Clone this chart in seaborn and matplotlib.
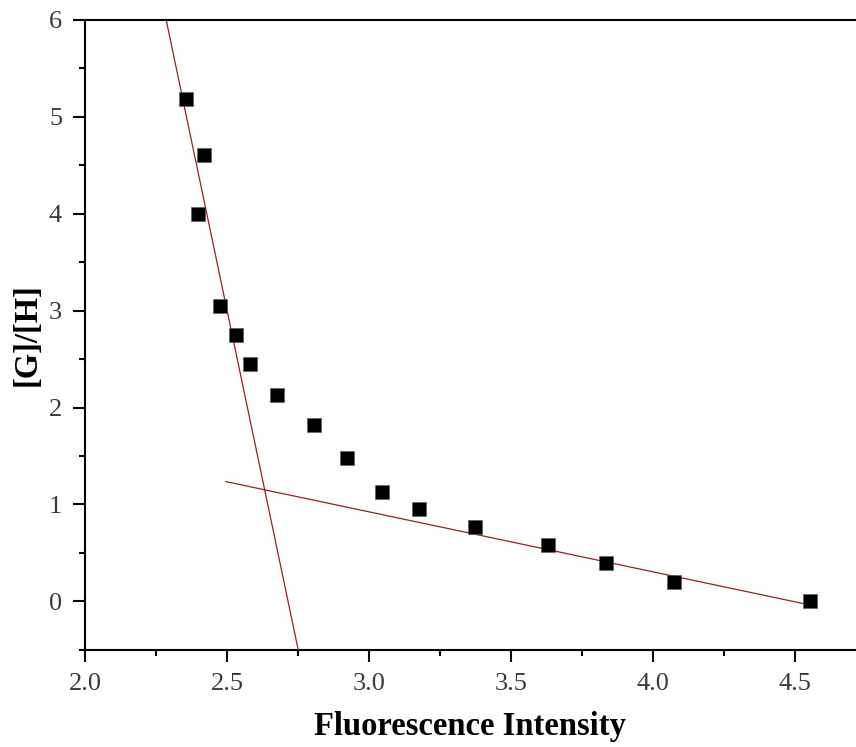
import matplotlib
matplotlib.use("Agg")
import matplotlib.pyplot as plt
import seaborn as sns
import pandas as pd
from matplotlib.ticker import MultipleLocator, FormatStrFormatter

# Data
fluorescence = [2.357, 2.419, 2.399, 2.477, 2.533, 2.582, 2.678, 2.806,
                2.924, 3.046, 3.177, 3.374, 3.632, 3.836, 4.076, 4.554]
ratio_gh = [5.18, 4.61, 4.00, 3.05, 2.75, 2.45, 2.13, 1.82,
            1.48, 1.13, 0.95, 0.77, 0.58, 0.39, 0.20, 0.00]

# Two fitted straight lines (endpoints)
steep_x = [2.286, 2.751]
steep_y = [6.0, -0.5]
shallow_x = [2.495, 4.553]
shallow_y = [1.236, -0.038]

sns.set_theme(style="white")
plt.rcParams['font.family'] = ['Liberation Serif', 'DejaVu Serif']

fig = plt.figure(figsize=(8.56, 7.47), dpi=100)
ax = fig.add_axes([85/856, 1 - 649.7/747, 1 - 85/856, (649.7 - 20)/747])

df = pd.DataFrame({"x": fluorescence, "y": ratio_gh})
lines = pd.DataFrame({"x": steep_x + shallow_x, "y": steep_y + shallow_y,
                      "fit": ["a", "a", "b", "b"]})

sns.lineplot(data=lines, x="x", y="y", units="fit", estimator=None,
             color="#9e1c1c", linewidth=0.9, ax=ax, zorder=3, sort=False)
sns.scatterplot(data=df, x="x", y="y", marker="s", s=100, color="black",
                edgecolor="#555555", linewidth=0.4, ax=ax, zorder=4)

ax.set_xlim(2.0, 4.716)
ax.set_ylim(-0.5, 6.0)
ax.xaxis.set_major_locator(MultipleLocator(0.5))
ax.xaxis.set_minor_locator(MultipleLocator(0.25))
ax.yaxis.set_major_locator(MultipleLocator(1))
ax.yaxis.set_minor_locator(MultipleLocator(0.5))
ax.xaxis.set_major_formatter(FormatStrFormatter('%.1f'))
ax.yaxis.set_major_formatter(FormatStrFormatter('%d'))

for s in ["left", "bottom", "top"]:
    ax.spines[s].set_visible(True)
    ax.spines[s].set_color("black")
    ax.spines[s].set_linewidth(1.5)
ax.spines["right"].set_visible(False)

ax.tick_params(which="major", direction="out", length=8.5, width=1.5,
               color="black", labelsize=19, labelcolor="#3a3a3a", pad=8,
               bottom=True, left=True, top=False, right=False)
ax.tick_params(which="minor", direction="out", length=4.5, width=1.5,
               color="black", bottom=True, left=True, top=False, right=False)

ax.set_xlabel("Fluorescence Intensity", fontsize=23.5, fontweight="bold",
              color="black", labelpad=12)
ax.set_ylabel("[G]/[H]", fontsize=23.5, fontweight="bold", color="black")
ax.yaxis.set_label_coords((43 - 85) / 771, 0.5)

fig.savefig("out.png", dpi=100)
